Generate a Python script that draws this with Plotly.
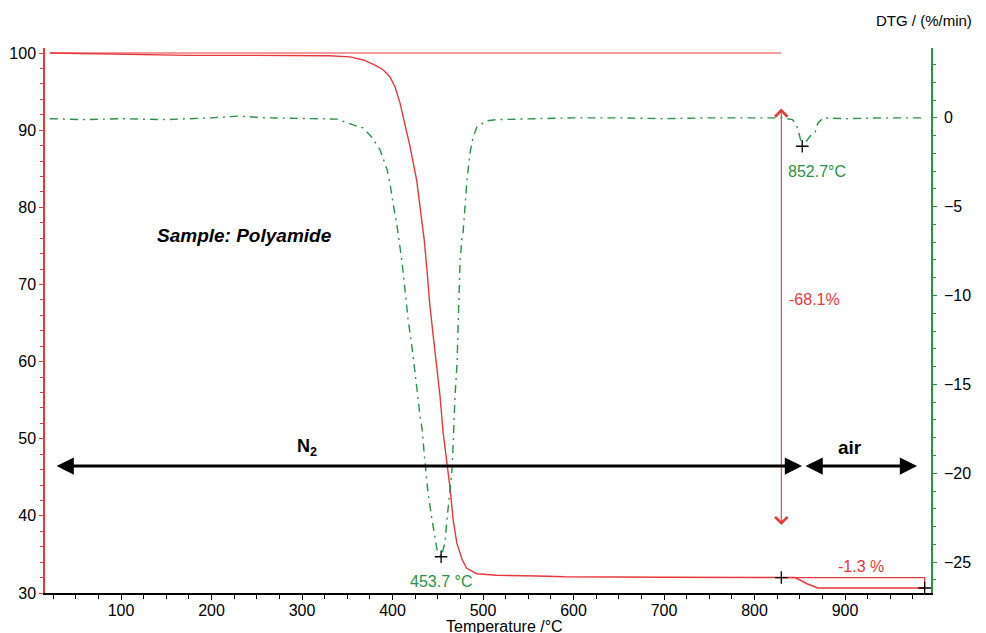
import plotly.graph_objects as go

# ---------------- data ----------------
# TG curve (mass %, left axis)
tg_temp = [21.5, 85, 120, 175, 240, 290, 300, 330, 353, 367.8, 380.7, 389.8, 397.2, 402.8,
           408.3, 413.8, 419.3, 426.7, 432.2, 435, 438, 441, 445, 449, 452.5, 456, 460,
           463.5, 467, 471, 477, 482, 493, 515, 560, 590, 700, 780, 830, 845, 858, 870, 988]
tg_mass = [100.0, 99.9, 99.8, 99.7, 99.7, 99.7, 99.65, 99.65, 99.5, 99.1, 98.44, 97.8, 96.9,
           95.6, 93.5, 90.9, 87.9, 83.5, 78.8, 75.8, 72.0, 67.6, 63.3, 59.0, 55.5, 50.7,
           46.85, 43.7, 39.5, 36.5, 34.3, 33.2, 32.5, 32.3, 32.2, 32.1, 32.05, 32.0, 32.0,
           32.0, 31.2, 30.65, 30.65]

# DTG curve (%/min, right axis)
dtg_temp = [21.5, 60, 100, 150, 200, 230, 260, 300, 338.7, 356.4, 367.4, 377.3, 386.2, 393.9,
            397.2, 400.6, 405, 410.5, 413.8, 417.1, 421.5, 424.9, 427.1, 430.4, 432.6, 435.9,
            439.2, 443.6, 447, 449.2, 453.7, 458, 460.2, 462.4, 465.7, 466.9, 469, 471.3,
            472.4, 473.5, 474.6, 476.8, 477.9, 480.1, 482.3, 485.6, 488.9, 493.4, 504.4,
            515.5, 560, 600, 650, 700, 750, 800, 830, 842, 847, 850, 852.7, 857, 861, 867,
            870, 876, 900, 940, 988]
dtg_rate = [-0.05, -0.1, -0.05, -0.1, 0.0, 0.1, 0.0, -0.05, -0.07, -0.4, -0.56, -1.1, -1.8,
            -2.9, -3.7, -4.8, -6.1, -8.1, -9.8, -11.3, -12.9, -14.2, -15.3, -16.8, -17.5,
            -19.4, -21.1, -22.6, -23.5, -24.3, -24.7, -23.9, -22.6, -21.3, -19.8, -18.5,
            -15.7, -13.8, -11.9, -10.0, -8.1, -6.7, -6.5, -5.0, -3.5, -2.0, -1.1, -0.5,
            -0.17, -0.1, -0.05, 0.0, 0.0, -0.05, 0.0, 0.0, 0.0, -0.1, -0.5, -1.05, -1.6,
            -1.35, -1.05, -0.8, -0.3, 0.0, -0.05, 0.0, 0.0]

# reference lines for the mass-loss steps
ref_top_temp = [21.5, 829.6]
ref_top_mass = [100.0, 100.0]
ref_bot_temp = [829.6, 988, 988]
ref_bot_mass = [32.0, 32.0, 30.65]

# marked points
tg_mark_temp = [829.6, 988]
tg_mark_mass = [32.0, 30.65]
dtg_mark_temp = [453.7, 852.7]
dtg_mark_rate = [-24.7, -1.6]

# step arrow (mass) and atmosphere arrows
step_arrow_temp = 829.6
step_arrow_top = 93.0
step_arrow_bottom = 38.8
atm_arrow_level = 46.46
n2_range = [27.1, 852.5]
air_range = [854.7, 979.6]

x_ticks = [100, 200, 300, 400, 500, 600, 700, 800, 900]
y_ticks = [30, 40, 50, 60, 70, 80, 90, 100]
y2_ticks = [-25, -20, -15, -10, -5, 0]

RED = "#e8383b"
GREEN = "#2a9147"
FONT = "Liberation Sans, Arial, sans-serif"

fig = go.Figure()

fig.add_trace(go.Scatter(x=ref_top_temp, y=ref_top_mass, mode="lines",
                         line=dict(color=RED, width=1.2), hoverinfo="skip"))
fig.add_trace(go.Scatter(x=ref_bot_temp, y=ref_bot_mass, mode="lines",
                         line=dict(color=RED, width=1.2), hoverinfo="skip"))
fig.add_trace(go.Scatter(x=tg_temp, y=tg_mass, mode="lines",
                         line=dict(color=RED, width=1.4, shape="linear")))
fig.add_trace(go.Scatter(x=dtg_temp, y=dtg_rate, mode="lines", yaxis="y2",
                         line=dict(color=GREEN, width=1.4, dash="8px,5px,2px,5px")))
fig.add_trace(go.Scatter(x=tg_mark_temp, y=tg_mark_mass, mode="markers",
                         marker=dict(symbol="cross-thin", size=9,
                                     line=dict(color="black", width=1.3))))
fig.add_trace(go.Scatter(x=dtg_mark_temp, y=dtg_mark_rate, mode="markers", yaxis="y2",
                         marker=dict(symbol="cross-thin", size=9,
                                     line=dict(color="black", width=1.3))))

annotations = [
    # mass-loss double arrow
    dict(x=step_arrow_temp, y=step_arrow_bottom, ax=step_arrow_temp, ay=step_arrow_top,
         xref="x", yref="y", axref="x", ayref="y", text="", showarrow=True,
         arrowhead=4, arrowside="end+start", arrowwidth=1.1, arrowsize=2.2, arrowcolor=RED),
    # N2 arrow
    dict(x=n2_range[1], y=atm_arrow_level, ax=n2_range[0], ay=atm_arrow_level,
         xref="x", yref="y", axref="x", ayref="y", text="", showarrow=True,
         arrowhead=2, arrowside="end+start", arrowwidth=3, arrowsize=1.15, arrowcolor="black"),
    # air arrow
    dict(x=air_range[1], y=atm_arrow_level, ax=air_range[0], ay=atm_arrow_level,
         xref="x", yref="y", axref="x", ayref="y", text="", showarrow=True,
         arrowhead=2, arrowside="end+start", arrowwidth=3, arrowsize=1.15, arrowcolor="black"),
    dict(x=305, y=48.8, xref="x", yref="y", text="<b>N<sub>2</sub></b>", showarrow=False,
         font=dict(size=18, color="black", family=FONT)),
    dict(x=905, y=48.8, xref="x", yref="y", text="<b>air</b>", showarrow=False,
         font=dict(size=19, color="black", family=FONT)),
    dict(x=236, y=76.4, xref="x", yref="y", text="<b><i>Sample: Polyamide</i></b>",
         showarrow=False, font=dict(size=19, color="black", family=FONT)),
    dict(x=866, y=68.0, xref="x", yref="y", text="-68.1%", showarrow=False,
         font=dict(size=16, color=RED, family=FONT)),
    dict(x=918, y=33.5, xref="x", yref="y", text="-1.3 %", showarrow=False,
         font=dict(size=16, color=RED, family=FONT)),
    dict(x=453.5, y=-26.1, xref="x", yref="y2", text="453.7 °C", showarrow=False,
         font=dict(size=16, color=GREEN, family=FONT)),
    dict(x=869, y=-3.0, xref="x", yref="y2", text="852.7°C", showarrow=False,
         font=dict(size=16, color=GREEN, family=FONT)),
    dict(x=0.992, y=1.051, xref="paper", yref="paper", text="DTG / (%/min)", showarrow=False,
         xanchor="center", yanchor="middle", font=dict(size=15, color="black", family=FONT)),
    dict(x=0.519, y=-0.061, xref="paper", yref="paper", text="Temperature /°C",
         showarrow=False, xanchor="center", yanchor="middle",
         font=dict(size=16, color="black", family=FONT)),
]

# the page body has an 8px margin, so the figure is sized to fit the window
fig.update_layout(
    width=978, height=625, autosize=False,
    margin=dict(l=37, r=55, t=40, b=40, pad=0, autoexpand=False),
    paper_bgcolor="white", plot_bgcolor="white",
    showlegend=False,
    font=dict(family=FONT, size=16, color="black"),
    annotations=annotations,
    xaxis=dict(range=[16, 995], tickvals=x_ticks, ticks="outside", ticklen=5,
               tickcolor="black", tickwidth=1, showline=True, linecolor="black",
               linewidth=1.5, showgrid=False, zeroline=False, ticklabelstandoff=-3,
               automargin=False,
               tickfont=dict(size=16, color="black", family=FONT),
               minor=dict(tick0=0, dtick=25, ticks="outside", ticklen=4,
                          tickcolor="black", showgrid=False)),
    yaxis=dict(range=[30, 100.65], tickvals=y_ticks, ticks="outside", ticklen=4,
               tickcolor=RED, showline=True, linecolor=RED, linewidth=1.5,
               showgrid=False, zeroline=False, automargin=False,
               tickfont=dict(size=16, color="black", family=FONT),
               minor=dict(tick0=30, dtick=2, ticks="outside", ticklen=3,
                          tickcolor=RED, showgrid=False)),
    yaxis2=dict(range=[-26.74, 3.93], overlaying="y", side="right", tickvals=y2_ticks,
                ticks="outside", ticklen=4, tickcolor=GREEN, showline=True,
                linecolor=GREEN, linewidth=1.5, showgrid=False, zeroline=False,
                ticklabelstandoff=4, automargin=False,
                tickfont=dict(size=16, color="black", family=FONT),
                minor=dict(tick0=0, dtick=1, ticks="outside", ticklen=3,
                           tickcolor=GREEN, showgrid=False)),
)

fig.write_html("out.html")
